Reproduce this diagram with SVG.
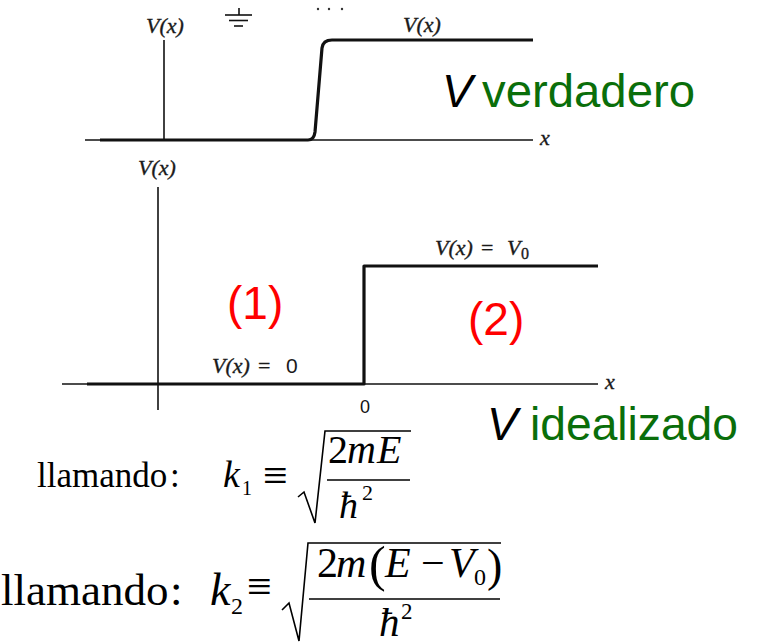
<svg xmlns="http://www.w3.org/2000/svg" width="757" height="642" viewBox="0 0 757 642">
<style>
.ax{stroke:#111;stroke-width:1.6;fill:none}
.pot{stroke:#111;stroke-width:3.2;fill:none;stroke-linejoin:round}
.lab{font-family:"Liberation Serif",serif;font-style:italic;font-size:22px;fill:#1a1a1a;stroke:#1a1a1a;stroke-width:0.35}
.up{font-style:normal}
.big{font-family:"Liberation Sans",Arial,sans-serif;font-size:46px}
.red{font-family:"Liberation Sans",Arial,sans-serif;font-size:46px;fill:#ff0000}
.grn{fill:#0a6e0a}
.m{font-family:"Liberation Serif","Times New Roman",serif;fill:#000}
.mi{font-style:italic}
.rad{fill:none;stroke:#000;stroke-width:1.6;stroke-linejoin:miter}
</style>

<g id="graph-real">
  <line class="ax" x1="85" y1="140" x2="533" y2="140"/>
  <line class="ax" x1="164" y1="40" x2="164" y2="140"/>
  <path class="pot" d="M100,140 L308,140 Q314,140 315,132 L322,48 Q323,40 332,40 L533,40"/>
  <text class="lab" x="146" y="33">V(x)</text>
  <text class="lab" x="403" y="32">V(x)</text>
  <text class="lab" x="540" y="145" font-size="17">x</text>
  <g id="ground" class="ax" stroke-width="1.4">
    <line x1="239" y1="8" x2="239" y2="15"/>
    <line x1="225" y1="15" x2="252" y2="15"/>
    <line x1="229" y1="20.5" x2="248" y2="20.5"/>
    <line x1="234" y1="26" x2="243" y2="26"/>
  </g>
  <g id="dots" fill="#333">
    <circle cx="318" cy="9" r="1.2"/>
    <circle cx="329" cy="9" r="1.2"/>
    <circle cx="342" cy="9" r="1.2"/>
  </g>
</g>

<g id="label-verdadero">
  <text class="big" x="442" y="107"><tspan font-style="italic" fill="#000">V</tspan></text>
  <text class="big grn" x="482" y="107" textLength="213" lengthAdjust="spacingAndGlyphs">verdadero</text>
</g>

<g id="graph-ideal">
  <line class="ax" x1="62" y1="384" x2="598" y2="384"/>
  <line class="ax" x1="158" y1="187" x2="158" y2="410"/>
  <path class="pot" d="M87,384 L364,384 L364,266 L598,266"/>
  <text class="lab" x="138" y="175" font-size="23">V(x)</text>
  <text class="lab" x="435" y="255">V(x)<tspan class="up" x="481">=</tspan><tspan x="507">V</tspan><tspan class="up" x="521" dy="4" font-size="16">0</tspan></text>
  <text class="lab" x="212" y="373">V(x)<tspan class="up" x="258">=</tspan><tspan class="up" x="286" font-family="Liberation Sans,sans-serif" stroke-width="0" font-size="21">0</tspan></text>
  <text class="lab" x="605" y="389" font-size="20">x</text>
  <text x="360" y="413" font-family="Liberation Sans,sans-serif" font-size="18" fill="#111">0</text>
</g>

<g id="region-1"><text class="red" x="227" y="319">(1)</text></g>
<g id="region-2"><text class="red" x="468" y="335">(2)</text></g>

<g id="label-idealizado">
  <text class="big" x="487" y="440"><tspan font-style="italic" fill="#000">V</tspan></text>
  <text class="big grn" x="530" y="440" textLength="208" lengthAdjust="spacingAndGlyphs">idealizado</text>
</g>

<g id="formula-k1">
  <text class="m" x="37" y="487" font-size="35">llamando</text>
  <text class="m" x="170" y="487" font-size="35">:</text>
  <text class="m mi" x="223" y="487" font-size="38">k</text>
  <text class="m" x="242" y="495" font-size="20">1</text>
  <text class="m" x="263" y="490" font-size="44">≡</text>
  <path class="rad" d="M298,497 L304,492 L315,523 L325,431 L411,431"/>
  <line x1="327" y1="480" x2="410" y2="480" stroke="#000" stroke-width="1.6"/>
  <text class="m" x="328" y="463" font-size="40">2</text>
  <text class="m mi" x="347" y="463" font-size="40">m</text>
  <text class="m mi" x="377" y="463" font-size="40">E</text>
  <text class="m mi" x="339" y="518" font-size="38">ħ</text>
  <text class="m" x="362" y="500" font-size="22">2</text>
</g>

<g id="formula-k2">
  <text class="m" x="1" y="605" font-size="45">llamando</text>
  <text class="m" x="170" y="605" font-size="45">:</text>
  <text class="m mi" x="210" y="605" font-size="46">k</text>
  <text class="m" x="231" y="614" font-size="24">2</text>
  <text class="m" x="247" y="601" font-size="44">≡</text>
  <path class="rad" d="M282,610 L289,603 L299,641 L308,543 L501,543"/>
  <line x1="309" y1="599" x2="500" y2="599" stroke="#000" stroke-width="1.6"/>
  <text class="m" x="317" y="577" font-size="42">2</text>
  <text class="m mi" x="336" y="577" font-size="42">m</text>
  <text class="m" x="369" y="581" font-size="50">(</text>
  <text class="m mi" x="385" y="577" font-size="42">E</text>
  <text class="m" x="421" y="577" font-size="42">−</text>
  <text class="m mi" x="449" y="577" font-size="42">V</text>
  <text class="m" x="474" y="585" font-size="24">0</text>
  <text class="m" x="487" y="581" font-size="46">)</text>
  <text class="m mi" x="379" y="636" font-size="41">ħ</text>
  <text class="m" x="401" y="619" font-size="23">2</text>
</g>
</svg>
